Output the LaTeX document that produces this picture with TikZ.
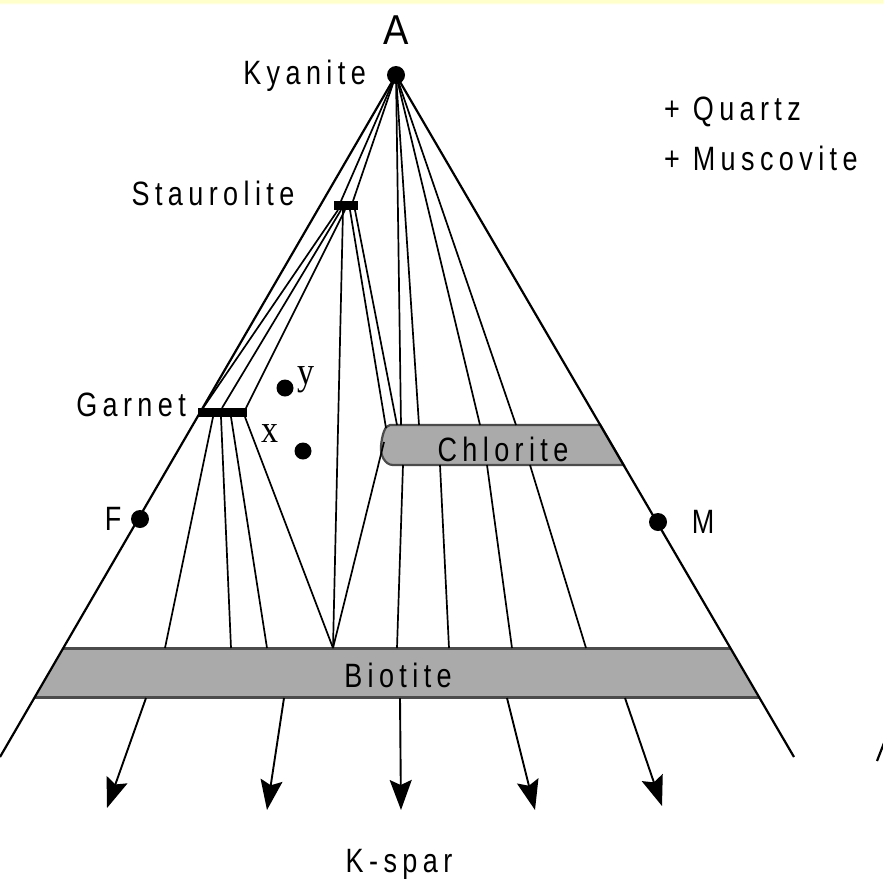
\documentclass[tikz,border=0pt]{standalone}
\usepackage{fontspec}
\setmainfont{Liberation Sans}
\newfontfamily\labfont{Liberation Sans}[LetterSpace=20]
\newfontfamily\serfont{Liberation Serif}
\usetikzlibrary{arrows.meta}
\newcommand\tallt[1]{\scalebox{1}[1.25]{#1}}
\definecolor{bandfill}{RGB}{170,170,170}
\definecolor{bandedge}{RGB}{75,75,75}
\definecolor{topstrip}{RGB}{255,255,204}
\begin{document}
\begin{tikzpicture}[x=1pt,y=-1pt,
  lab/.style={font=\labfont\fontsize{27}{27}\selectfont, inner sep=0pt},
  serlab/.style={font=\serfont\fontsize{34}{34}\selectfont, inner sep=0pt},
  dot/.style={circle, fill=black, minimum size=18pt, inner sep=0pt},
  bar/.style={fill=black, inner sep=0pt},
  side/.style={line width=2.2pt},
  tie/.style={line width=1.7pt},
  arr/.style={line width=1.9pt, -{Stealth[length=30pt,width=22pt,inset=5pt]}},
  band/.style={fill=bandfill},
  bandline/.style={draw=bandedge, line width=3pt}]
\useasboundingbox (0,0) rectangle (883,892);
\fill[white] (0,0) rectangle (883,892);
\fill[topstrip] (0,0) rectangle (883,3);

% bands
\fill[band] (63.3,648) -- (730.4,648) -- (759,697) -- (34.9,697) -- cycle;
\draw[bandline] (63.3,648) -- (730.4,648);
\draw[bandline] (34.9,697) -- (759,697);
\path[band, draw=bandedge, line width=2.2pt] (390,425) -- (600.3,425) -- (623.6,465) -- (393,465)
  .. controls (385,465) and (380,455) .. (381,446)
  .. controls (382,435) and (385,425) .. (390,425) -- cycle;

% named points
\node[dot] (ky) at (396,75) {};
\node[dot] (F) at (140,519) {};
\node[dot] (M) at (658,522) {};
\node[dot, minimum size=17pt] (py) at (285,388) {};
\node[dot, minimum size=17pt] (px) at (303,451) {};
\coordinate (lb) at (0,757);
\coordinate (rb) at (794,757);
\node[bar, minimum width=24pt, minimum height=9pt] (st) at (346,205.5) {};
\node[bar, minimum width=49pt, minimum height=9pt] (gt) at (222.5,412.5) {};
\coordinate (s1) at (341,201); \coordinate (s2) at (353,201);
\coordinate (sg1) at (338,210); \coordinate (sg2) at (341,210); \coordinate (sg3) at (345,210);
\coordinate (sv) at (343,210); \coordinate (sc1) at (350,210); \coordinate (sc2) at (355,210);
\coordinate (g1) at (203,408); \coordinate (g2) at (222,408); \coordinate (g3) at (246,408);
\coordinate (gb1) at (213,417); \coordinate (gb2) at (221,417);
\coordinate (gb3) at (231,417); \coordinate (gb4) at (245,417);
\coordinate (bt1) at (165,648); \coordinate (bt2) at (231,648); \coordinate (bt3) at (267,648);
\coordinate (J) at (333,648); \coordinate (bt5) at (397,648); \coordinate (bt6) at (449,648);
\coordinate (bt7) at (512,648); \coordinate (bt8) at (586,648);
\coordinate (ct0) at (386,428); \coordinate (ct1) at (397,425); \coordinate (ct2) at (401,425);
\coordinate (ct3) at (419,425); \coordinate (ct4) at (480,425); \coordinate (ct5) at (516,425);
\coordinate (cl) at (384,442);
\coordinate (cb1) at (403,465); \coordinate (cb2) at (440,465);
\coordinate (cb3) at (487,465); \coordinate (cb4) at (530,465);
\coordinate (bb1) at (146,698); \coordinate (bb2) at (284,698); \coordinate (bb3) at (400,698);
\coordinate (bb4) at (507,698); \coordinate (bb5) at (625,698);
\coordinate (at1) at (107,808); \coordinate (at2) at (267,810); \coordinate (at3) at (401,810);
\coordinate (at4) at (535,810); \coordinate (at5) at (662,806);
\coordinate (fr1) at (877,761); \coordinate (fr2) at (884,743);

% triangle sides
\draw[side] (ky.center) -- (lb);
\draw[side] (ky.center) -- (rb);

% kyanite tie lines
\draw[tie] (ky.center) -- (s1);
\draw[tie] (ky.center) -- (s2);
\draw[tie] (ky.center) -- (ct2);
\draw[tie] (ky.center) -- (ct3);
\draw[tie] (ky.center) -- (ct4);
\draw[tie] (ky.center) -- (ct5);

% staurolite tie lines
\draw[tie] (sg1) -- (g1);
\draw[tie] (sg2) -- (g2);
\draw[tie] (sg3) -- (g3);
\draw[tie] (sv) -- (J);
\draw[tie] (sc1) -- (ct0);
\draw[tie] (sc2) -- (ct1);

% garnet - biotite
\draw[tie] (gb1) -- (bt1);
\draw[tie] (gb2) -- (bt2);
\draw[tie] (gb3) -- (bt3);
\draw[tie] (gb4) -- (J);

% chlorite - biotite
\draw[tie] (cl) -- (J);
\draw[tie] (cb1) -- (bt5);
\draw[tie] (cb2) -- (bt6);
\draw[tie] (cb3) -- (bt7);
\draw[tie] (cb4) -- (bt8);

% biotite - K-spar
\draw[arr] (bb1) -- (at1);
\draw[arr] (bb2) -- (at2);
\draw[arr] (bb3) -- (at3);
\draw[arr] (bb4) -- (at4);
\draw[arr] (bb5) -- (at5);

\draw[side] (fr1) -- (fr2);

% labels
\node[font=\fontsize{38}{38}\selectfont, inner sep=0pt] (tA) at (396,30) {\scalebox{1}[1.1]{A}};
\node[lab, anchor=east] (tky) at (366,76) {\tallt{Kyanite}};
\node[lab, anchor=west] (tq) at (664,112) {\tallt{+ Quartz}};
\node[lab, anchor=west] (tmu) at (664,158) {\tallt{+ Muscovite}};
\node[lab] (tst) at (213,193) {\tallt{Staurolite}};
\node[lab, anchor=east] (tga) at (186,405) {\tallt{Garnet}};
\node[serlab] (ty) at (306,380) {\scalebox{1}[1.15]{y}};
\node[serlab] (tx) at (270,434) {\scalebox{1}[1.15]{x}};
\node[lab] (tF) at (113,519) {\tallt{F}};
\node[lab] (tM) at (703,522) {\tallt{M}};
\node[lab] (tch) at (503,449) {\tallt{Chlorite}};
\node[lab] (tbi) at (398,675) {\tallt{Biotite}};
\node[lab] (tks) at (399,864) {\tallt{K-spar}};
\end{tikzpicture}
\end{document}
